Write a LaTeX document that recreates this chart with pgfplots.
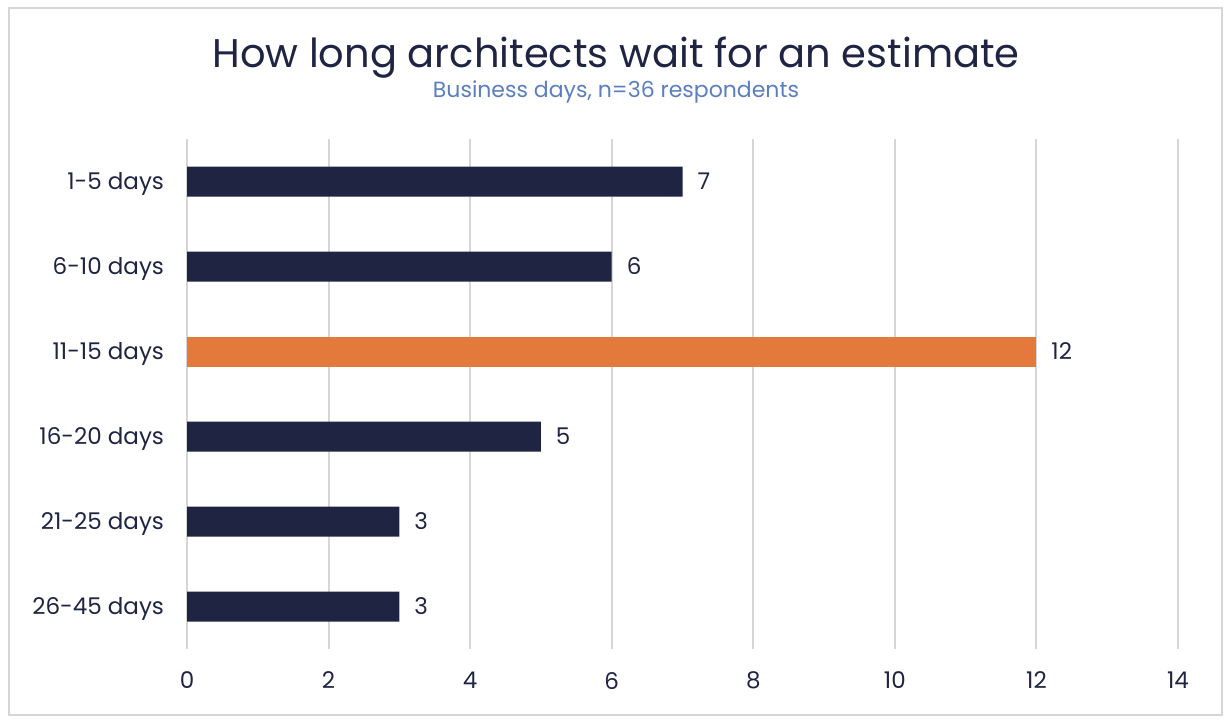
\documentclass[border=0pt]{standalone}
\usepackage{pgfplots}
\pgfplotsset{compat=1.18}
\usepackage{fontspec}
\setmainfont{Poppins}
\definecolor{navy}{HTML}{1F2442}
\definecolor{orng}{HTML}{E37A3B}
\definecolor{subblue}{HTML}{5B7EC0}
\definecolor{gridc}{HTML}{D6D6D6}
\begin{document}
\begin{tikzpicture}
\useasboundingbox (0,0) rectangle (616bp,363bp);
\draw[gridc, line width=1bp] (4.5bp,5.5bp) rectangle (611bp,359bp);
\node[font=\fontsize{20bp}{24bp}\selectfont, text=navy] at (308bp,334bp) {How long architects wait for an estimate};
\node[font=\fontsize{11bp}{13bp}\selectfont, text=subblue] at (308bp,317bp) {Business days, n=36 respondents};
\begin{axis}[
  at={(93.5bp,38.5bp)}, anchor=south west,
  scale only axis, width=495.5bp, height=255bp,
  xmin=0, xmax=14, ymin=-0.5, ymax=5.5, y dir=reverse,
  xtick={0,2,...,14}, ytick={0,...,5},
  yticklabels={1-5 days,6-10 days,11-15 days,16-20 days,21-25 days,26-45 days},
  axis line style={draw=none}, major tick length=0pt,
  xmajorgrids, grid style={gridc, line width=1bp},
  /pgf/number format/assume math mode=true,
  tick label style={font=\fontsize{11.5bp}{14bp}\selectfont, text=navy},
  yticklabel style={xshift=-8bp, yshift=-1bp},
  xticklabel style={yshift=-8bp},
  xbar, bar width=15bp, bar shift=0pt,
  nodes near coords, point meta=explicit symbolic,
  nodes near coords style={font=\fontsize{11.5bp}{14bp}\selectfont, text=navy, anchor=west, xshift=4bp},
]
\addplot[fill=navy, draw=none] coordinates {(7,0) [7] (6,1) [6] (5,3) [5] (3,4) [3] (3,5) [3]};
\addplot[fill=orng, draw=none] coordinates {(12,2) [12]};
\end{axis}
\end{tikzpicture}
\end{document}
